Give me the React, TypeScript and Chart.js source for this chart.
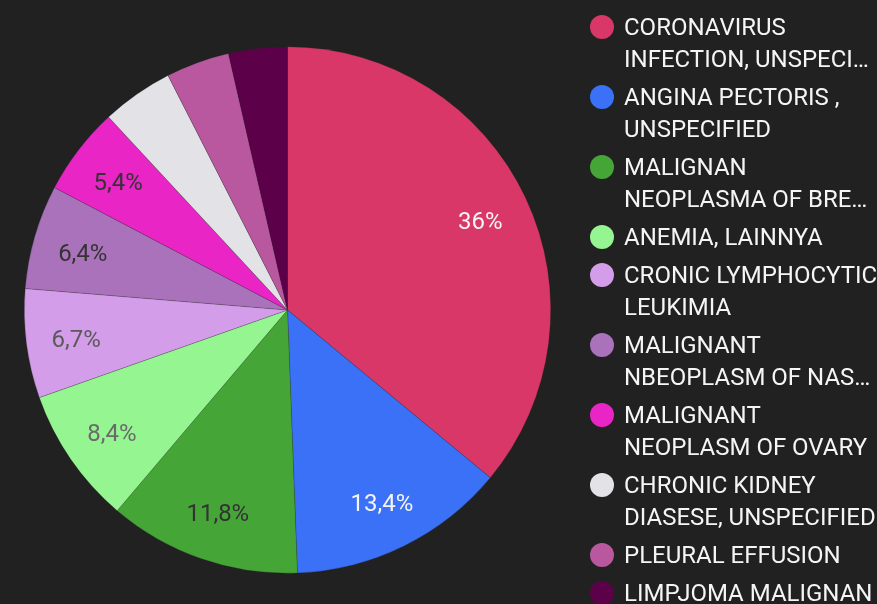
import React, { useEffect, useRef } from "react";
import { Chart, registerables } from "chart.js";

Chart.register(...registerables);

const categories: string[] = [
  "CORONAVIRUS\nINFECTION, UNSPECI…",
  "ANGINA PECTORIS ,\nUNSPECIFIED",
  "MALIGNAN\nNEOPLASMA OF BRE…",
  "ANEMIA, LAINNYA",
  "CRONIC LYMPHOCYTIC\nLEUKIMIA",
  "MALIGNANT\nNBEOPLASM OF NAS…",
  "MALIGNANT\nNEOPLASM OF OVARY",
  "CHRONIC KIDNEY\nDIASESE, UNSPECIFIED",
  "PLEURAL EFFUSION",
  "LIMPJOMA MALIGNAN",
];

const shares: number[] = [36, 13.4, 11.8, 8.4, 6.7, 6.4, 5.4, 4.4, 3.9, 3.6];

const sliceColors: string[] = [
  "#d83768",
  "#3b71f7",
  "#45a637",
  "#95f590",
  "#d49de9",
  "#a972bb",
  "#e925c6",
  "#e3e3e7",
  "#b9579f",
  "#5d004a",
];

const labelColors: string[] = [
  "#f4f4f4",
  "#f4f4f4",
  "#333333",
  "#6a6a6a",
  "#5a5a5a",
  "#333333",
  "#333333",
  "#333333",
  "#333333",
  "#f4f4f4",
];

const labelThreshold = 5;

const sliceLabelPlugin = {
  id: "sliceLabels",
  afterDatasetsDraw(chart: any) {
    const ctx = chart.ctx;
    const meta = chart.getDatasetMeta(0);
    const values = chart.data.datasets[0].data as number[];
    ctx.save();
    ctx.font = "24px Roboto";
    ctx.textAlign = "center";
    ctx.textBaseline = "middle";
    meta.data.forEach((arc: any, i: number) => {
      const v = values[i];
      if (v < labelThreshold) return;
      const { x, y, startAngle, endAngle, outerRadius } = arc.getProps(
        ["x", "y", "startAngle", "endAngle", "outerRadius"],
        true
      );
      const mid = (startAngle + endAngle) / 2;
      const r = outerRadius * 0.81;
      ctx.fillStyle = labelColors[i];
      ctx.fillText(String(v).replace(".", ",") + "%", x + Math.cos(mid) * r, y + Math.sin(mid) * r + 4);
    });
    ctx.restore();
  },
};

export default function App() {
  const canvasRef = useRef<HTMLCanvasElement | null>(null);

  useEffect(() => {
    document.body.style.margin = "0";
    document.body.style.background = "#212121";
    const chart = new Chart(canvasRef.current as HTMLCanvasElement, {
      type: "pie",
      data: {
        labels: categories,
        datasets: [
          {
            data: shares,
            backgroundColor: sliceColors,
            borderColor: "rgba(40,40,40,0.35)",
            borderWidth: 0.6,
          },
        ],
      },
      options: {
        animation: false,
        responsive: false,
        maintainAspectRatio: false,
        layout: { padding: { left: 24, right: 326, top: 46, bottom: 30 } },
        plugins: {
          legend: { display: false },
          tooltip: { enabled: false },
        },
      },
      plugins: [sliceLabelPlugin],
    });
    return () => chart.destroy();
  }, []);

  return (
    <div
      style={{
        position: "fixed",
        left: 0,
        top: 0,
        width: 877,
        height: 604,
        background: "#212121",
        overflow: "hidden",
      }}
    >
      <canvas ref={canvasRef} width={877} height={604} style={{ position: "absolute", left: 0, top: 0 }} />
      <div
        style={{
          position: "absolute",
          left: 590,
          top: 11,
          fontFamily: "Roboto",
          fontSize: 24,
          lineHeight: "32px",
          color: "#f5f5f5",
        }}
      >
        {categories.map((c, i) => (
          <div key={i} style={{ display: "flex", alignItems: "flex-start", marginBottom: 6 }}>
            <div
              style={{
                width: 24,
                height: 24,
                borderRadius: 12,
                background: sliceColors[i],
                marginTop: 4,
                marginRight: 10,
                flex: "0 0 auto",
              }}
            />
            <div>
              {c.split("\n").map((line, j) => (
                <div key={j} style={{ whiteSpace: "nowrap" }}>
                  {line}
                </div>
              ))}
            </div>
          </div>
        ))}
      </div>
    </div>
  );
}
